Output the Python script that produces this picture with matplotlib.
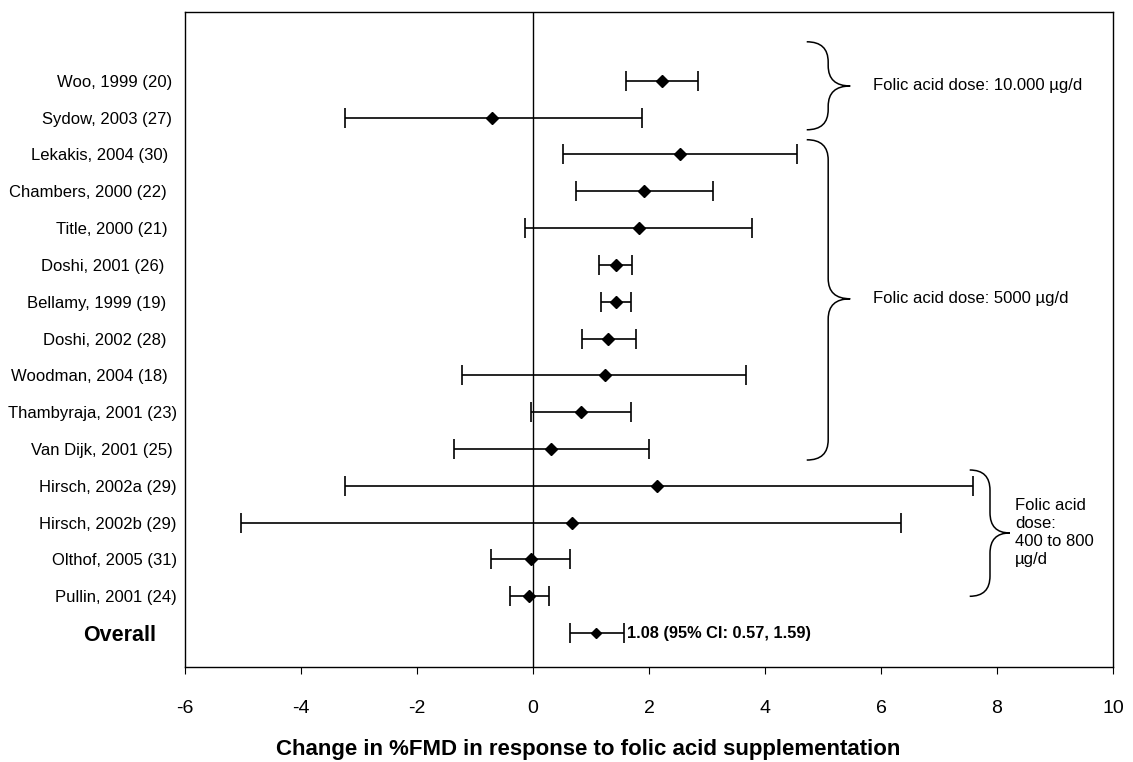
import numpy as np
import matplotlib.pyplot as plt
from matplotlib.path import Path
from matplotlib.patches import PathPatch

plt.rcParams['font.family'] = ['Liberation Sans', 'DejaVu Sans']
plt.rcParams['axes.unicode_minus'] = False

# studies, top to bottom
studies = ['Woo, 1999 (20)', 'Sydow, 2003 (27)', 'Lekakis, 2004 (30)', 'Chambers, 2000 (22)',
           'Title, 2000 (21)', 'Doshi, 2001 (26)', 'Bellamy, 1999 (19)', 'Doshi, 2002 (28)',
           'Woodman, 2004 (18)', 'Thambyraja, 2001 (23)', 'Van Dijk, 2001 (25)',
           'Hirsch, 2002a (29)', 'Hirsch, 2002b (29)', 'Olthof, 2005 (31)', 'Pullin, 2001 (24)']
effect = [2.22, -0.70, 2.53, 1.92, 1.82, 1.43, 1.43, 1.29, 1.24, 0.82, 0.31, 2.14, 0.67, -0.03, -0.07]
lower = [1.60, -3.25, 0.51, 0.75, -0.13, 1.14, 1.17, 0.84, -1.22, -0.03, -1.36, -3.24, -5.03, -0.72, -0.40]
upper = [2.84, 1.88, 4.55, 3.10, 3.77, 1.70, 1.69, 1.77, 3.67, 1.69, 2.00, 7.58, 6.35, 0.64, 0.28]

overall = 1.08
overall_lo = 0.63
overall_hi = 1.57
overall_text = '1.08 (95% CI: 0.57, 1.59)'

dose_labels = ['Folic acid dose: 10.000 µg/d', 'Folic acid dose: 5000 µg/d',
               'Folic acid\ndose:\n400 to 800\nµg/d']

# the original labels are typed in, not quite lined up (shift in pixels)
label_shift = [0, 0, -4, -5, -4, -8, -6, -5, -4, 5, 1, 5, 5, 5, 5, -16]

n = len(studies)
ypos = np.arange(n, 0, -1)  # 15..1, overall at 0

fig = plt.figure(figsize=(11.33, 7.62), dpi=100)
ax = fig.add_axes([0.1633, 0.1247, 0.819, 0.8596])

eff = np.array(effect)
xerr = np.array([eff - np.array(lower), np.array(upper) - eff])
ax.errorbar(eff, ypos, xerr=xerr, fmt='D', color='black', ms=6, lw=1.2,
            capsize=7, capthick=1.2, ecolor='black')
ax.errorbar([overall], [0], xerr=[[overall - overall_lo], [overall_hi - overall]], fmt='D',
            color='black', ms=5, lw=1.2, capsize=7, capthick=1.2)
ax.text(overall_hi + 0.05, 0, overall_text, fontsize=11.8, fontweight='bold', va='center', ha='left')

ax.axvline(0, color='black', lw=1)

ax.set_xlim(-6, 10)
ax.set_ylim(-0.92, 16.87)
ax.set_xticks(np.arange(-6, 11, 2))
ax.tick_params(axis='x', direction='out', length=5, labelsize=14, pad=19)
ax.set_yticks(list(ypos) + [0])
ax.set_yticklabels(studies + ['Overall'], fontsize=12)
ax.tick_params(axis='y', length=0, pad=9.4)
ylabs = ax.get_yticklabels()
for lab, sh in zip(ylabs, label_shift):
    lab.set_x(sh / 928)
ylabs[-1].set_fontsize(15.5)
ylabs[-1].set_fontweight('bold')
for s in ax.spines.values():
    s.set_linewidth(1)
ax.set_xlabel('Change in %FMD in response to folic acid supplementation', fontsize=16,
              fontweight='bold')
ax.xaxis.set_label_coords(0.435, -0.1267)
ax.xaxis.label.set_va('center')


def brace(ax, xe, xl, xt, ytop, ytip, ybot, r=0.55):
    verts = [(xe, ytop), (xl, ytop), (xl, ytop - r), (xl, ytip + r), (xl, ytip), (xt, ytip),
             (xl, ytip), (xl, ytip - r), (xl, ybot + r), (xl, ybot), (xe, ybot)]
    codes = [Path.MOVETO, Path.CURVE3, Path.CURVE3, Path.LINETO, Path.CURVE3, Path.CURVE3,
             Path.CURVE3, Path.CURVE3, Path.LINETO, Path.CURVE3, Path.CURVE3]
    ax.add_patch(PathPatch(Path(verts, codes), fill=False, lw=1.1, color='black', clip_on=False))


brace(ax, 4.72, 5.09, 5.47, 16.06, 14.86, 13.67)
brace(ax, 4.72, 5.09, 5.47, 13.40, 9.08, 4.70)
brace(ax, 7.53, 7.88, 8.22, 4.43, 2.72, 1.00)

ax.text(5.86, 14.86, dose_labels[0], fontsize=12, va='center', ha='left')
ax.text(5.86, 9.08, dose_labels[1], fontsize=12, va='center', ha='left')
ax.text(8.31, 2.72, dose_labels[2], fontsize=12, va='center', ha='left', linespacing=1.25)

fig.savefig('out.png', dpi=100)
